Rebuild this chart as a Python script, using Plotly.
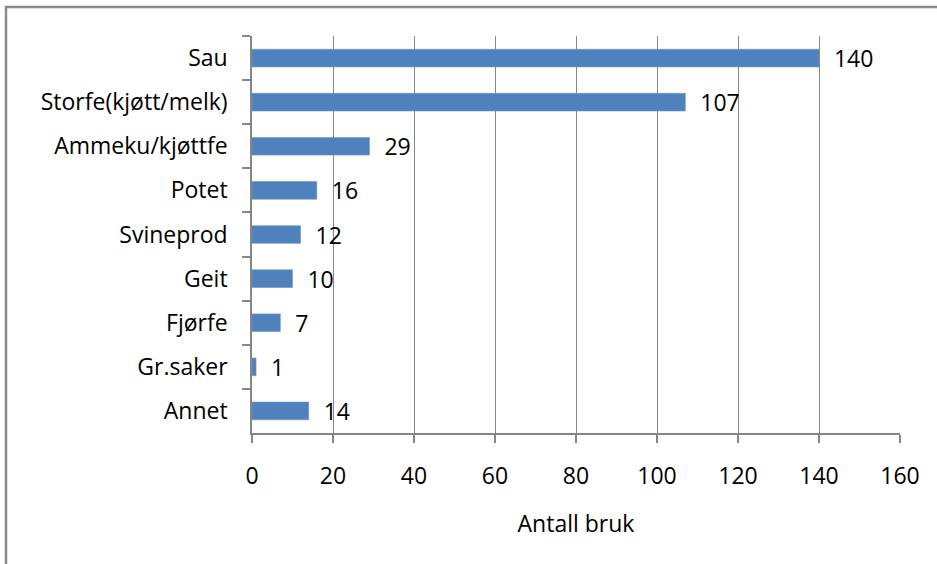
import plotly.graph_objects as go

categories = ["Sau", "Storfe(kjøtt/melk)", "Ammeku/kjøttfe", "Potet", "Svineprod",
              "Geit", "Fjørfe", "Gr.saker", "Annet"]
values = [140, 107, 29, 16, 12, 10, 7, 1, 14]
x_ticks = [0, 20, 40, 60, 80, 100, 120, 140, 160]
x_title = "Antall bruk"

W, H = 937, 564
L, R, T, B = 252, W - 900, 36, H - 433
pw, ph = W - L - R, H - T - B

FONT = "Open Sans"
GRAY = "#868686"
FS = 23

fig = go.Figure()
fig.add_trace(go.Bar(
    y=categories, x=values, orientation="h",
    marker=dict(color="#4F81BD", line=dict(color="#6a96cc", width=0.6)),
    width=0.40,
    text=["\u00a0\u00a0" + str(v) for v in values], textposition="outside",
    constraintext="none",
    textfont=dict(family=FONT, size=FS, color="#000000"),
    cliponaxis=False,
))

fig.update_layout(
    width=W, height=H,
    margin=dict(l=L, r=R, t=T, b=B, pad=0),
    paper_bgcolor="white", plot_bgcolor="white",
    showlegend=False,
    font=dict(family=FONT, size=FS, color="#000000"),
    xaxis=dict(
        range=[0, 160], tickvals=x_ticks, ticktext=[str(t) for t in x_ticks],
        showgrid=True, gridcolor=GRAY, gridwidth=1,
        showline=True, linecolor=GRAY, linewidth=1.5,
        ticks="outside", ticklen=8, tickcolor=GRAY, tickwidth=1.5,
        ticklabelstandoff=14, zeroline=False,
        tickfont=dict(family=FONT, size=FS),
        title=dict(text=x_title, standoff=26, font=dict(family=FONT, size=FS)),
        fixedrange=True,
    ),
    yaxis=dict(
        categoryorder="array", categoryarray=categories, autorange="reversed",
        showgrid=False, showline=True, linecolor=GRAY, linewidth=1.5,
        ticks="outside", ticklen=8, tickcolor=GRAY, tickwidth=1.5,
        tickson="boundaries", ticklabelstandoff=18, zeroline=False,
        tickfont=dict(family=FONT, size=FS),
        fixedrange=True,
    ),
    shapes=[dict(
        type="rect", xref="paper", yref="paper",
        x0=(6 - L) / pw, x1=(W + 20 - L) / pw,
        y0=(433 - (H + 20)) / ph, y1=(433 - 7) / ph,
        line=dict(color="#8a8a8a", width=2.5), fillcolor="rgba(0,0,0,0)",
        layer="above",
    )],
)

fig.write_html("out.html", config={"displayModeBar": False},
               post_script="document.body.style.margin='0';document.body.style.overflow='hidden';")
